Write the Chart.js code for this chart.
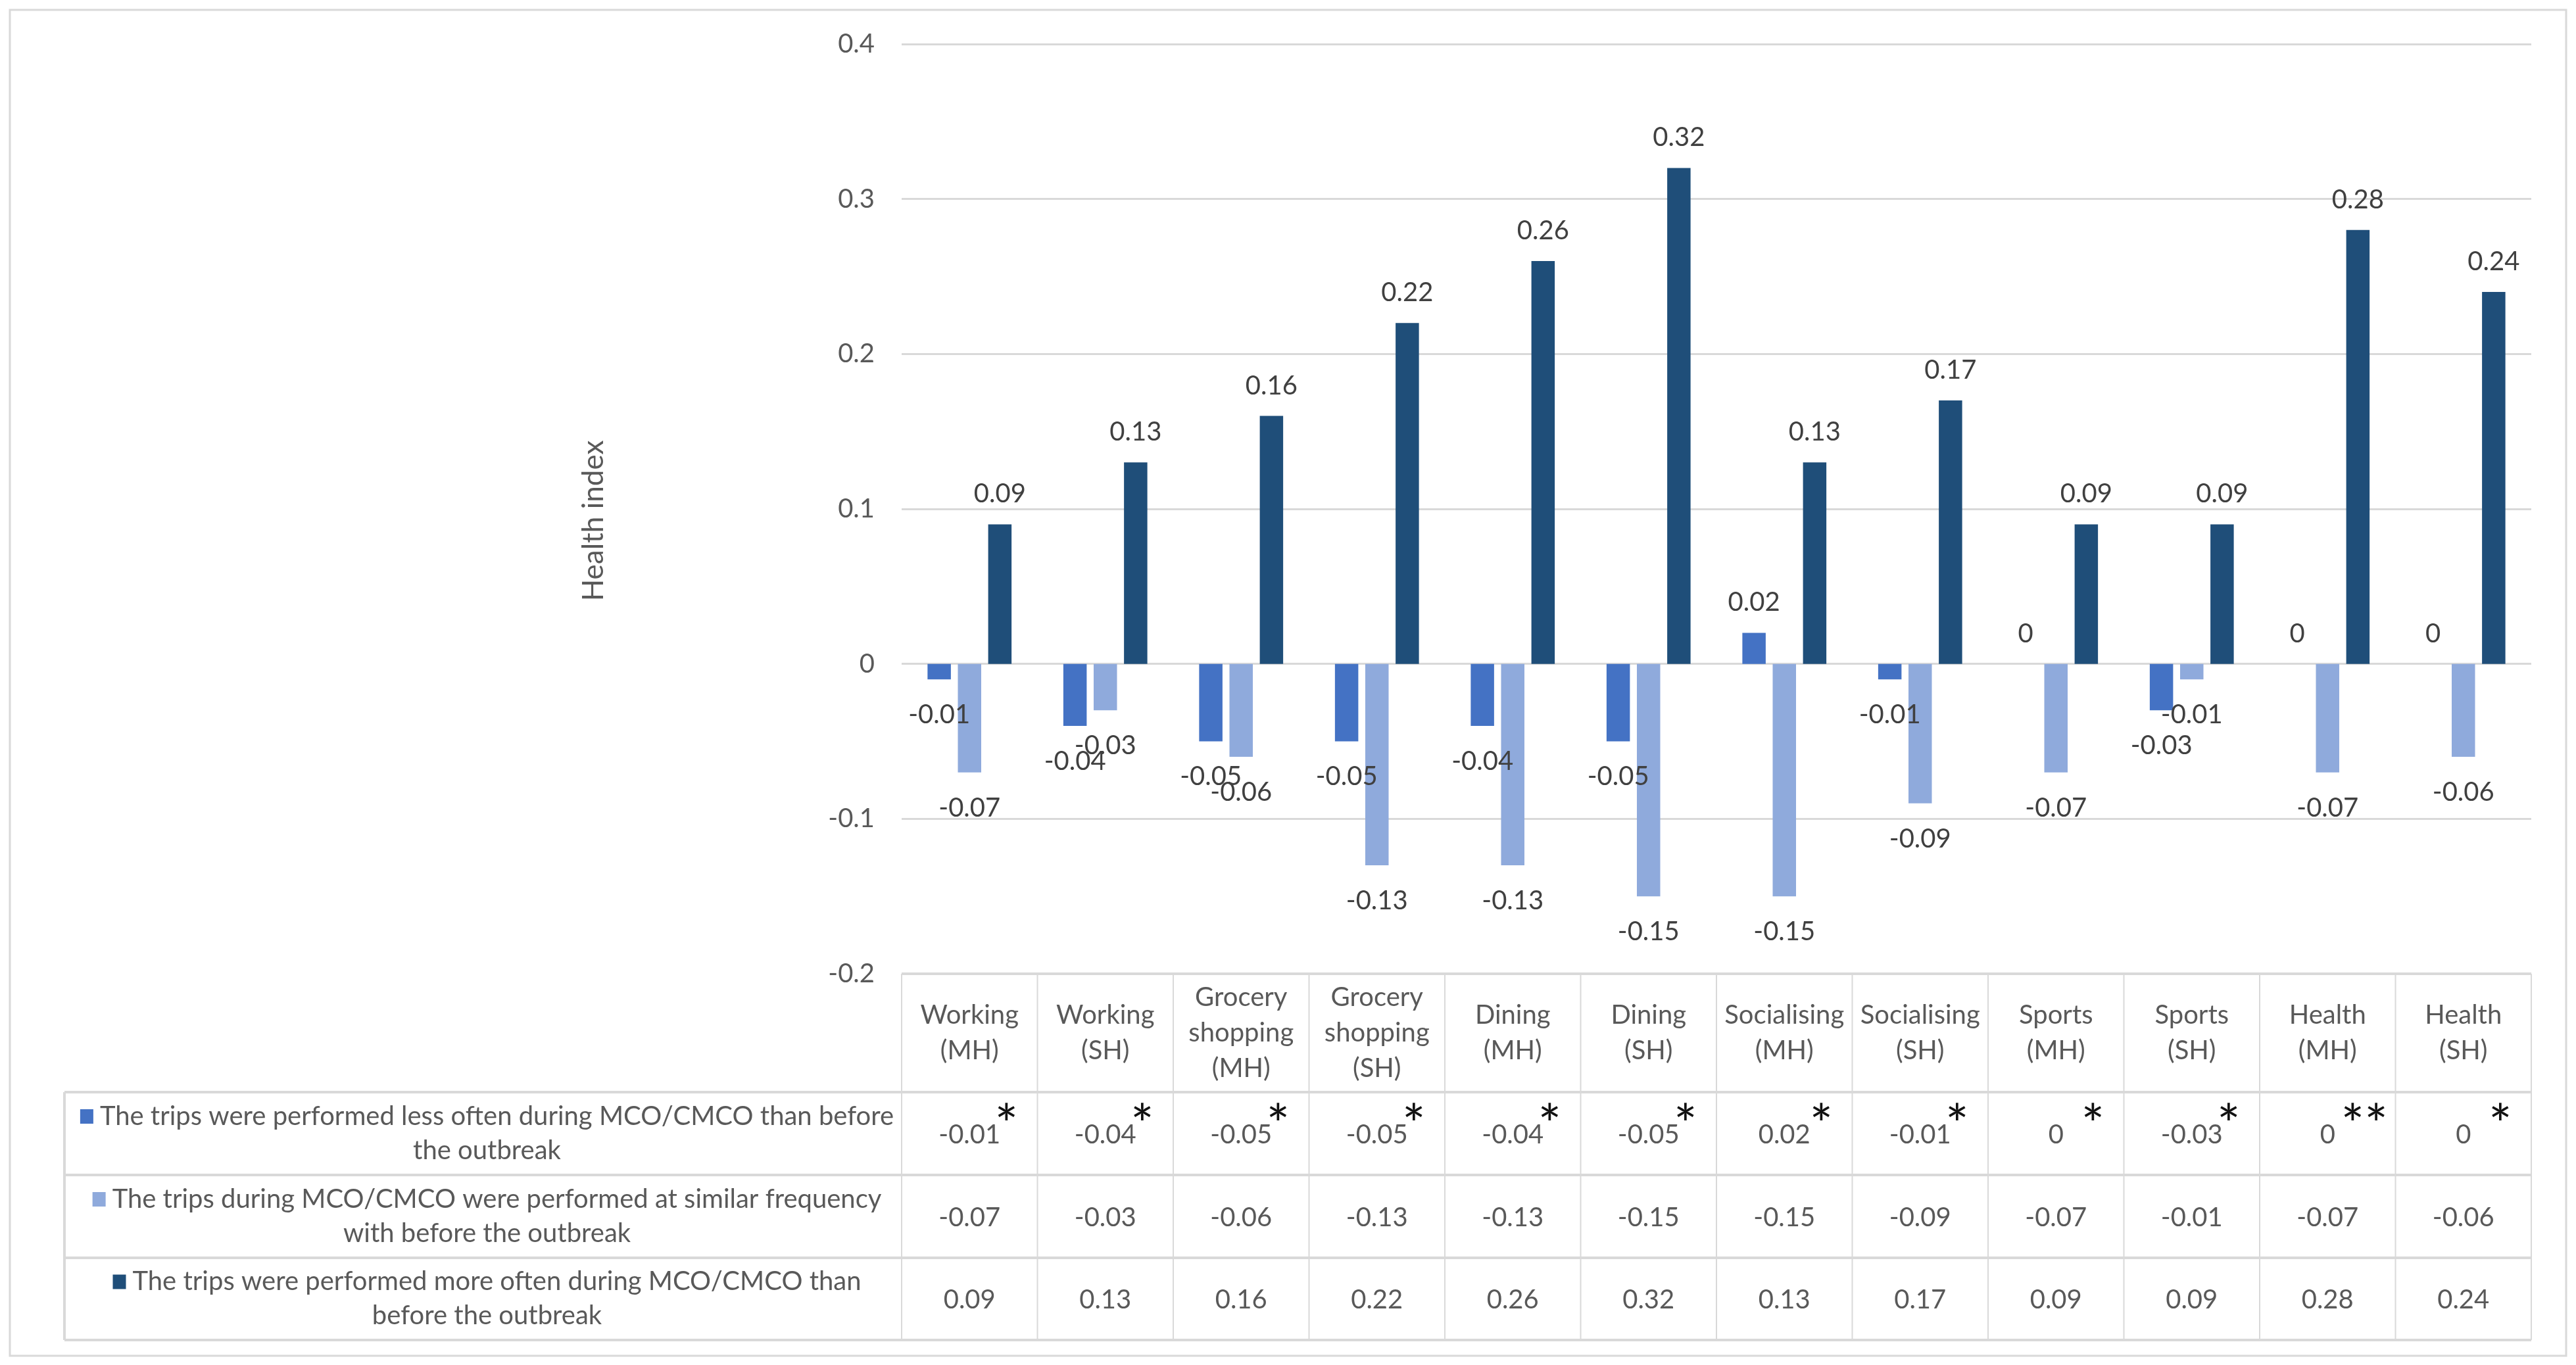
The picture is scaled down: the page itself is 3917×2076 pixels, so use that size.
<!DOCTYPE html>
<html><head><meta charset="utf-8">
<script src="https://cdn.jsdelivr.net/npm/chart.js@4.4.1/dist/chart.umd.min.js"></script>
<style>html,body{margin:0;padding:0;background:#fff;}</style>
</head><body>
<canvas id="c" width="3917" height="2076"></canvas>
<script>
const categories = [["Working","(MH)"],["Working","(SH)"],["Grocery","shopping","(MH)"],["Grocery","shopping","(SH)"],["Dining","(MH)"],["Dining","(SH)"],["Socialising","(MH)"],["Socialising","(SH)"],["Sports","(MH)"],["Sports","(SH)"],["Health","(MH)"],["Health","(SH)"]];
const lessOften   = [-0.01,-0.04,-0.05,-0.05,-0.04,-0.05,0.02,-0.01,0,-0.03,0,0];
const similarFreq = [-0.07,-0.03,-0.06,-0.13,-0.13,-0.15,-0.15,-0.09,-0.07,-0.01,-0.07,-0.06];
const moreOften   = [0.09,0.13,0.16,0.22,0.26,0.32,0.13,0.17,0.09,0.09,0.28,0.24];
const significance = ["*","*","*","*","*","*","*","*","*","*","**","*"];
const seriesLabels = [
  ["The trips were performed less often during MCO/CMCO than before","the outbreak"],
  ["The trips during MCO/CMCO were performed at similar frequency","with before the outbreak"],
  ["The trips were performed more often during MCO/CMCO than","before the outbreak"]
];
const seriesColors = ["#4472C4","#8FAADC","#1F4E79"];
const yMin = -0.2, yMax = 0.4, yStep = 0.1;
const yTitle = "Health index";

const FONT = "Lato, 'Open Sans', sans-serif";
const TXT = "#595959";
const GRID = "#d9d9d9";

const tablePlugin = {
  id: 'tablePlugin',
  afterDatasetsDraw(chart) {
    const ctx = chart.ctx;
    ctx.save();
    ctx.font = "40px " + FONT;
    ctx.fillStyle = "#404040";
    ctx.textAlign = "center";
    ctx.textBaseline = "middle";
    chart.data.datasets.forEach((ds, di) => {
      const meta = chart.getDatasetMeta(di);
      meta.data.forEach((el, i) => {
        const v = ds.data[i];
        const y = v >= 0 ? el.y - 46 : el.y + 54;
        ctx.fillText(String(v), el.x, y);
      });
    });
    ctx.restore();
  },
  afterDraw(chart) {
    const ctx = chart.ctx;
    const area = chart.chartArea;
    const xs = chart.scales.x;
    const n = categories.length;
    const colW = (area.right - area.left) / n;
    const x0 = 98;
    const rows = [area.bottom, 1661, 1787, 1913, 2038];
    ctx.save();
    ctx.strokeStyle = GRID; ctx.lineWidth = 3;
    ctx.strokeRect(15, 15, 3887, 2047);
    ctx.save();
    ctx.translate(903, 792);
    ctx.rotate(-Math.PI / 2);
    ctx.font = "44px " + FONT; ctx.fillStyle = TXT;
    ctx.textAlign = "center"; ctx.textBaseline = "middle";
    ctx.fillText(yTitle, 0, 0);
    ctx.restore();
    ctx.strokeStyle = GRID; ctx.lineWidth = 4;
    ctx.beginPath();
    ctx.moveTo(area.left, rows[0]); ctx.lineTo(area.right, rows[0]);
    for (let r = 1; r < rows.length; r++) { ctx.moveTo(x0, rows[r]); ctx.lineTo(area.right, rows[r]); }
    ctx.moveTo(x0, rows[1]); ctx.lineTo(x0, rows[4]);
    ctx.stroke();
    ctx.lineWidth = 2;
    ctx.beginPath();
    for (let k = 0; k <= n; k++) {
      const x = area.left + k * colW;
      ctx.moveTo(x, rows[0]); ctx.lineTo(x, rows[4]);
    }
    ctx.stroke();
    ctx.font = "40px " + FONT; ctx.fillStyle = TXT;
    ctx.textAlign = "center"; ctx.textBaseline = "middle";
    const lh = 54;
    categories.forEach((lines, i) => {
      const cx = xs.getPixelForValue(i);
      const cy = (rows[0] + rows[1]) / 2;
      lines.forEach((t, j) => ctx.fillText(t, cx, cy + (j - (lines.length - 1) / 2) * lh));
    });
    const series = [lessOften, similarFreq, moreOften];
    series.forEach((arr, r) => {
      const cy = (rows[r + 1] + rows[r + 2]) / 2;
      arr.forEach((v, i) => ctx.fillText(String(v), xs.getPixelForValue(i), cy + 2));
    });
    ctx.fillStyle = "#111"; ctx.font = "84px " + FONT;
    significance.forEach((s, i) => {
      ctx.fillText(s, xs.getPixelForValue(i) + 56, rows[1] + 52);
    });
    ctx.font = "40px " + FONT; ctx.fillStyle = TXT;
    const lcx = (x0 + area.left) / 2 + 6;
    seriesLabels.forEach((lines, r) => {
      const cy = (rows[r + 1] + rows[r + 2]) / 2;
      const w = ctx.measureText(lines[0]).width;
      const mw = 20, gap = 10;
      const start = lcx - (mw + gap + w) / 2;
      ctx.fillStyle = seriesColors[r];
      ctx.fillRect(start, cy - 26 - 11, mw, 22);
      ctx.fillStyle = TXT;
      ctx.textAlign = "left";
      ctx.fillText(lines[0], start + mw + gap, cy - 26);
      ctx.textAlign = "center";
      ctx.fillText(lines[1], lcx, cy + 26);
    });
    ctx.restore();
  }
};

new Chart(document.getElementById('c'), {
  type: 'bar',
  data: {
    labels: categories,
    datasets: [
      { label: seriesLabels[0].join(' '), data: lessOften, backgroundColor: seriesColors[0] },
      { label: seriesLabels[1].join(' '), data: similarFreq, backgroundColor: seriesColors[1] },
      { label: seriesLabels[2].join(' '), data: moreOften, backgroundColor: seriesColors[2] }
    ]
  },
  options: {
    responsive: false,
    devicePixelRatio: 1,
    animation: false,
    categoryPercentage: 0.67,
    barPercentage: 0.77,
    layout: { padding: { left: 0, top: 67, right: 68, bottom: 595 } },
    plugins: { legend: { display: false }, tooltip: { enabled: false }, title: { display: false } },
    scales: {
      x: { display: false },
      y: {
        min: yMin, max: yMax,
        afterFit(scale) { scale.width = 1371; },
        ticks: {
          stepSize: yStep, padding: 41, color: TXT,
          font: { family: FONT, size: 40 },
          callback: v => String(Math.round(v * 10) / 10)
        },
        grid: { color: GRID, lineWidth: 3, drawTicks: false },
        border: { display: false }
      }
    }
  },
  plugins: [tablePlugin]
});
</script>
</body></html>
